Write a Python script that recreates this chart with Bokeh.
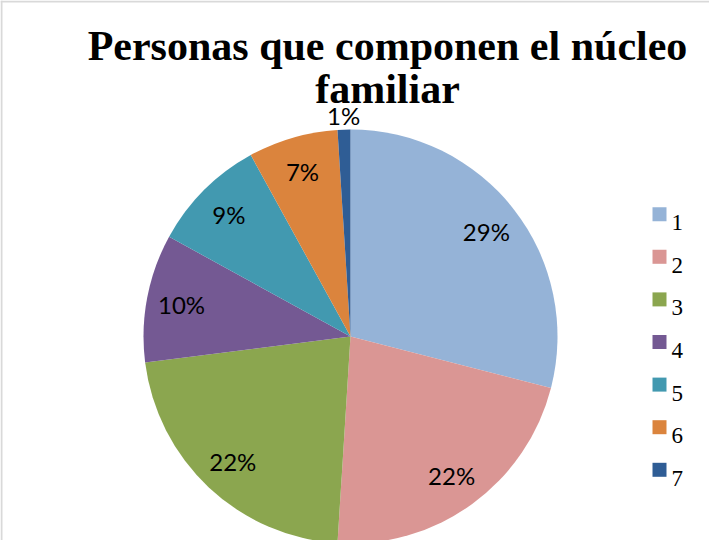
import math
from bokeh.plotting import figure
from bokeh.models import Range1d, ColumnDataSource, Span
from bokeh.core.properties import value
from bokeh.embed import file_html
from bokeh.resources import INLINE

title_lines = ["Personas que componen el núcleo", "familiar"]
categories = ["1", "2", "3", "4", "5", "6", "7"]
percentages = [29, 22, 22, 10, 9, 7, 1]
colors = ["#95B3D7", "#DA9694", "#8BA64F", "#745993", "#4299B0", "#DB843D", "#2F5D95"]

W, H = 709, 540
p = figure(width=W, height=H, output_backend="svg", toolbar_location=None,
           x_range=Range1d(0, W), y_range=Range1d(0, H), min_border=0,
           x_axis_location=None, y_axis_location=None)
p.grid.visible = False
p.outline_line_color = None
p.background_fill_color = "white"
p.border_fill_color = "white"

p.add_layout(Span(location=1, dimension="height", line_color="#D9D9D9", line_width=2))
p.add_layout(Span(location=H - 1, dimension="width", line_color="#D9D9D9", line_width=2))

cx, cy, R = 350, 204, 207
total = sum(percentages)
starts, ends, lx, ly = [], [], [], []
cum = 0.0
for v in percentages:
    a0 = math.pi / 2 - 2 * math.pi * cum / total
    cum += v
    a1 = math.pi / 2 - 2 * math.pi * cum / total
    starts.append(a0)
    ends.append(a1)
    mid = (a0 + a1) / 2
    r = 172 if v >= 3 else R + 14
    lx.append(cx + r * math.cos(mid))
    ly.append(cy + r * math.sin(mid))

src = ColumnDataSource(dict(start=starts, end=ends, color=colors,
                            lx=lx, ly=ly, lab=[f"{v}%" for v in percentages]))
p.wedge(x=cx, y=cy, radius=R, start_angle="start", end_angle="end",
        direction="clock", fill_color="color", line_color=None, source=src)
p.text(x="lx", y="ly", text="lab", source=src, text_align="center",
       text_baseline="middle", text_font=value("Lato"), text_font_size="24px",
       text_color="black")

# title
p.text(x=[387, 387], y=[495, 452], text=title_lines, text_align="center",
       text_baseline="alphabetic", text_font=value("Liberation Serif"),
       text_font_style="bold", text_font_size="42px", text_color="black")

# legend
ly0 = 548 - 221.7
step = 42.6
leg_y = [ly0 - i * step for i in range(len(categories))]
p.scatter(x=[659] * len(categories), y=leg_y, marker="square", size=14,
          fill_color=colors, line_color=None)
p.text(x=[671] * len(categories), y=[yy - 8.5 for yy in leg_y], text=categories,
       text_align="left", text_baseline="alphabetic",
       text_font=value("Liberation Serif"), text_font_size="23px", text_color="black")

open("out.html", "w").write(file_html(p, INLINE))
